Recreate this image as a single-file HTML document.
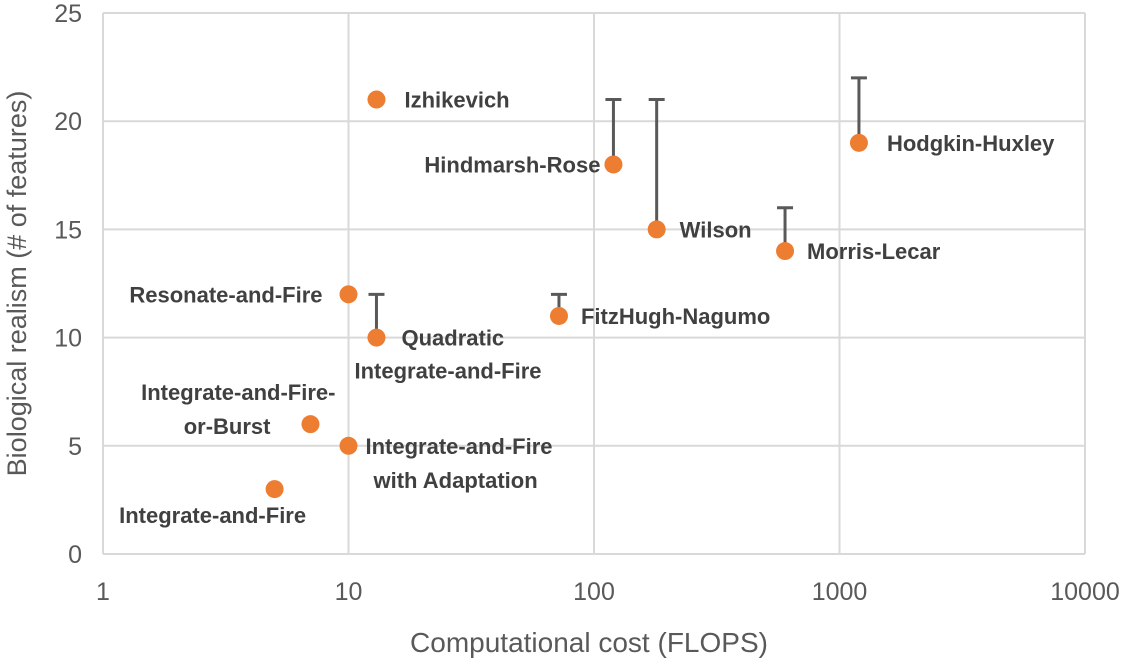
<!DOCTYPE html>
<html><head><meta charset="utf-8"><style>
body{margin:0;background:#fff;}
svg{display:block;font-family:"Liberation Sans",sans-serif;}
</style></head><body>
<svg id="chart" width="1122" height="660" viewBox="0 0 1122 660"></svg>
<script>
const models = ["Izhikevich","Hindmarsh-Rose","Hodgkin-Huxley","Wilson","Morris-Lecar","Resonate-and-Fire","Quadratic Integrate-and-Fire","FitzHugh-Nagumo","Integrate-and-Fire-or-Burst","Integrate-and-Fire with Adaptation","Integrate-and-Fire"];
const flops = [13,120,1200,180,600,10,13,72,7,10,5];
const realism = [21,18,19,15,14,12,10,11,6,5,3];
const errorUpper = [0,21,22,21,16,0,12,12,0,0,0];
const xTicks = [1,10,100,1000,10000];
const yTicks = [0,5,10,15,20,25];
// label layout per line: [text, anchor, dx, dy] (presentation only)
const labelLines = [
 [["Izhikevich","start",28,8]],
 [["Hindmarsh-Rose","end",-13,8]],
 [["Hodgkin-Huxley","start",28,8]],
 [["Wilson","start",23,8]],
 [["Morris-Lecar","start",22,8]],
 [["Resonate-and-Fire","end",-26,8]],
 [["Quadratic","start",25,8],["Integrate-and-Fire","start",-22,41]],
 [["FitzHugh-Nagumo","start",22,8]],
 [["Integrate-and-Fire-","end",25,-24],["or-Burst","end",-40,10]],
 [["Integrate-and-Fire","start",17,8],["with Adaptation","start",25,42]],
 [["Integrate-and-Fire","middle",-62,34]]
];

const NS="http://www.w3.org/2000/svg";
const svg=document.getElementById('chart');
const L=103,R=1085,T=13,B=554;
const xs=v=>L+Math.log10(v)/4*(R-L);
const ys=v=>B-v/25*(B-T);
function mk(t,a,p){const e=document.createElementNS(NS,t);for(const k in a)e.setAttribute(k,a[k]);(p||svg).appendChild(e);return e;}

const grid=mk('g',{});


xTicks.forEach(t=>{
  const l=mk('line',{x1:xs(t),x2:xs(t),y1:T,y2:B,stroke:'#d9d9d9','stroke-width':2},grid);
  
  
  const tx=mk('text',{x:xs(t),y:B+46,'text-anchor':'middle','font-size':25,fill:'#595959'});
  tx.textContent=t;
  
  
});
yTicks.forEach(t=>{
  const l=mk('line',{x1:L,x2:R,y1:ys(t),y2:ys(t),stroke:'#d9d9d9','stroke-width':2},grid);
  
  
  const tx=mk('text',{x:L-21,y:ys(t)+9,'text-anchor':'end','font-size':25,fill:'#595959'});
  tx.textContent=t;
  
  
});
const xt=mk('text',{x:(L+R)/2-5,y:652,'text-anchor':'middle','font-size':28,fill:'#595959'});
xt.textContent='Computational cost (FLOPS)';


const yt=mk('text',{x:0,y:0,'text-anchor':'middle','font-size':27,fill:'#595959',transform:`translate(26,${(T+B)/2}) rotate(-90)`});
yt.textContent='Biological realism (# of features)';



models.forEach((m,i)=>{
  const cx=xs(flops[i]),cy=ys(realism[i]);
  if(errorUpper[i]>realism[i]){
    const g=mk('g',{stroke:'#595959','stroke-width':3});
    
    
    mk('line',{x1:cx,x2:cx,y1:cy,y2:ys(errorUpper[i])},g);
    mk('line',{x1:cx-8,x2:cx+8,y1:ys(errorUpper[i]),y2:ys(errorUpper[i])},g);
  }
  const c=mk('circle',{cx:cx,cy:cy,r:9,fill:'#ED7D31'});
  
  
  labelLines[i].forEach(p=>{
    const tx=mk('text',{x:cx+p[2],y:cy+p[3],'text-anchor':p[1],'font-size':22,'font-weight':'bold',fill:'#404040'});
    tx.textContent=p[0];
    
    
  });
});
</script>
</body></html>
